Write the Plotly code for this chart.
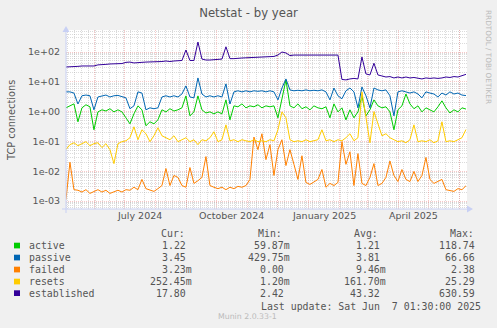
import pandas as pd
import plotly.graph_objects as go

# ---- data: daily-averaged TCP connection counts, one sample every 4 days ----
start = pd.Timestamp("2024-05-03")
dates = pd.date_range(start=start, periods=101, freq="4D")

established = [31.5, 31.5, 33, 33, 34, 34, 35, 34, 37, 37, 38.5, 39.7, 40, 40, 41, 45, 46, 43, 43, 45,
               46, 46, 46, 48, 48, 50, 48, 50, 50, 52, 117, 52, 52, 216, 58, 54, 54, 56, 56, 58,
               150, 60, 60, 63, 63, 64, 65, 65, 68, 68, 68, 70, 71, 79, 100, 93, 76, 79, 79, 79,
               79, 79, 79, 79, 79, 79, 79, 79, 79, 12, 11.6, 12.5, 13, 12.5, 68, 18.4, 17, 42, 17, 15.7,
               14.5, 15, 13.5, 14.5, 13.5, 14.5, 13.5, 14, 13, 12.5, 13.5, 13, 13.5, 13, 13.5, 14.5, 14, 15, 14.5, 15.7,
               17.8]

passive = [4.6, 4.6, 4.2, 1.8, 3.4, 3.6, 3.4, 1.15, 3.1, 3.4, 3.6, 3.1, 3.4, 3.5, 3.1, 2.9, 1.25, 1.56, 4.6, 4.2,
           1.15, 1.34, 1.25, 1.34, 3.1, 3.4, 3.1, 3.4, 3.1, 3.9, 7.3, 3.1, 2.9, 13.5, 3.9, 3.1, 3.4, 3.1, 3.4, 3.1,
           8.5, 1.8, 4.6, 5.0, 4.6, 5.0, 4.6, 5.0, 4.8, 5.0, 4.6, 5.0, 4.6, 2.48, 6.2, 12.5, 5.35, 5.0, 5.2, 5.0,
           5.35, 5.0, 5.2, 5.0, 5.35, 4.6, 2.48, 6.2, 3.4, 2.7, 5.0, 6.2, 4.6, 1.34, 6.7, 3.4, 1.34, 6.2, 5.35, 5.0,
           5.35, 3.4, 0.72, 4.6, 5.0, 4.6, 4.2, 4.6, 3.9, 2.9, 4.6, 4.2, 3.9, 3.1, 4.2, 3.6, 4.6, 3.9, 4.2, 3.6,
           3.45]

active = [1.34, 1.56, 1.82, 0.455, 1.34, 1.7, 1.45, 0.246, 0.98, 1.15, 1.05, 1.25, 0.98, 1.15, 0.98, 0.62, 0.39, 0.84, 1.56, 1.15,
          0.335, 0.455, 0.39, 0.53, 1.15, 0.98, 1.25, 1.05, 1.15, 1.34, 3.37, 0.72, 0.98, 3.37, 1.15, 0.9, 0.98, 0.84, 0.98, 0.84,
          2.48, 0.53, 1.56, 1.45, 1.82, 1.34, 1.56, 1.45, 1.7, 1.34, 1.56, 1.45, 1.56, 0.62, 2.48, 11.6, 1.56, 1.34, 1.82, 1.25,
          1.45, 1.15, 1.56, 1.34, 1.25, 1.45, 0.62, 1.82, 0.98, 1.34, 0.53, 1.15, 0.62, 0.98, 3.37, 0.72, 1.15, 2.48, 1.56, 1.34,
          1.45, 0.98, 0.246, 1.15, 1.56, 3.9, 1.82, 1.25, 1.56, 0.98, 1.34, 1.15, 0.98, 1.45, 2.3, 1.34, 0.9, 1.15, 0.98, 1.34,
          1.22]

resets = [0.053, 0.078, 0.09, 0.072, 0.084, 0.098, 0.072, 0.084, 0.09, 0.062, 0.084, 0.053, 0.018, 0.084, 0.098, 0.105, 0.133, 0.31, 0.114, 0.246,
          0.181, 0.098, 0.155, 0.287, 0.155, 0.133, 0.114, 0.155, 0.098, 0.114, 0.133, 0.098, 0.114, 0.078, 0.114, 0.105, 0.133, 0.211, 0.098, 0.114,
          0.36, 0.105, 0.114, 0.098, 0.114, 0.105, 0.098, 0.114, 0.098, 0.105, 0.098, 0.114, 0.105, 0.246, 0.98, 0.62, 0.114, 0.098, 0.105, 0.098,
          0.114, 0.098, 0.105, 0.114, 0.246, 0.105, 0.114, 0.098, 0.114, 0.105, 0.133, 0.181, 0.105, 0.133, 4.6, 0.53, 0.09, 1.0, 0.36, 0.155,
          0.181, 0.133, 0.114, 0.098, 0.105, 0.09, 0.114, 0.36, 0.098, 0.105, 0.098, 0.114, 0.09, 0.105, 0.455, 0.098, 0.105, 0.098, 0.114, 0.133,
          0.25]

failed = [0.0011, 0.02, 0.0024, 0.0023, 0.002, 0.0024, 0.0018, 0.0021, 0.0024, 0.002, 0.0023, 0.0018, 0.0021, 0.0023, 0.002, 0.0024, 0.0023, 0.0029, 0.0024, 0.0053,
          0.0026, 0.0023, 0.0021, 0.0026, 0.0033, 0.0123, 0.0033, 0.0072, 0.0062, 0.0033, 0.0029, 0.0133, 0.0039, 0.0048, 0.0062, 0.031, 0.0033, 0.0029, 0.0026, 0.0029,
          0.0024, 0.0029, 0.0026, 0.0031, 0.0029, 0.0033, 0.0053, 0.14, 0.053, 0.181, 0.0245, 0.078, 0.0072, 0.053, 0.114, 0.0155, 0.053, 0.017, 0.0053, 0.033,
          0.0042, 0.0036, 0.0045, 0.0053, 0.0114, 0.0029, 0.0039, 0.0033, 0.0042, 0.098, 0.017, 0.045, 0.0033, 0.039, 0.0039, 0.0033, 0.0062, 0.018, 0.0033, 0.0039,
          0.0062, 0.022, 0.0072, 0.0045, 0.0114, 0.0053, 0.0045, 0.0098, 0.0045, 0.0072, 0.029, 0.0053, 0.0039, 0.0045, 0.0053, 0.0024, 0.0023, 0.0021, 0.0026, 0.0024,
          0.00323]

series_names = ["active", "passive", "failed", "resets", "established"]
series_colors = ["#00CC00", "#0066B3", "#FF8000", "#FFCC00", "#330099"]
series_values = [active, passive, failed, resets, established]

cur_vals = ["1.22", "3.45", "3.23m", "252.45m", "17.80"]
min_vals = ["59.87m", "429.75m", "0.00", "1.20m", "2.42"]
avg_vals = ["1.21", "3.81", "9.46m", "161.70m", "43.32"]
max_vals = ["118.74", "66.66", "2.38", "25.29", "630.59"]

y_tick_vals = [1e-3, 1e-2, 1e-1, 1, 10, 100]
y_tick_text = ["1e-03", "1e-02", "1e-01", "1e+00", "1e+01", "1e+02"]
month_labels = ["July 2024", "October 2024", "January 2025", "April 2025"]
month_label_dates = ["2024-07-16", "2024-10-16", "2025-01-16", "2025-04-16"]

# ---- geometry ----
W, H = 497, 328
L, R, T, B = 66, 467, 30, 209

def px(x):
    return (x - L) / (R - L)

def py(y):
    return (B - y) / (B - T)

TEXT = "#555555"
SANS = "DejaVu Sans"
MONO = "DejaVu Sans Mono"
AXIS_COL = "#C8D0F4"
MGRID = "rgba(235,110,110,0.38)"
GRID = "rgba(160,160,160,0.38)"

fig = go.Figure()
for name, color, vals in zip(series_names, series_colors, series_values):
    fig.add_trace(go.Scatter(x=dates, y=vals, mode="lines", name=name,
                             line=dict(color=color, width=1), hoverinfo="skip"))

x_start = pd.Timestamp("2024-05-03 01:30")
x_end = x_start + pd.Timedelta(days=R - L)
month_starts = pd.date_range("2024-06-01", "2025-06-01", freq="MS")
week_lines = pd.date_range("2024-05-05", "2025-06-08", freq="7D")

minor_y = [m * 10.0 ** d for d in range(-4, 3) for m in range(2, 10)]

fig.update_layout(
    width=W, height=H,
    margin=dict(l=L, r=W - R, t=T, b=H - B),
    paper_bgcolor="#F0F0F0", plot_bgcolor="#FFFFFF",
    showlegend=False,
    title=dict(text="Netstat - by year", x=0.5, xref="container", xanchor="center",
               y=1 - 13 / H, yref="container", yanchor="middle",
               font=dict(family=SANS, size=11.7, color=TEXT)),
    xaxis=dict(type="date", range=[x_start, x_end], tickmode="array",
               tickvals=list(month_starts), showticklabels=False, ticks="",
               showgrid=True, gridcolor=MGRID, griddash="1px,1px", gridwidth=1,
               zeroline=False, showline=False,
               minor=dict(tickmode="array", tickvals=list(week_lines), showgrid=True,
                          gridcolor=GRID, griddash="1px,1px", gridwidth=1, ticks="")),
    yaxis=dict(type="log", range=[-3.268, 2.739], tickmode="array",
               tickvals=y_tick_vals, ticktext=y_tick_text, ticks="",
               tickfont=dict(family=SANS, size=9.5, color=TEXT), ticklabelstandoff=5,
               showgrid=True, gridcolor=MGRID, griddash="1px,1px", gridwidth=1,
               zeroline=False, showline=False,
               minor=dict(tickmode="array", tickvals=minor_y, showgrid=True,
                          gridcolor=GRID, griddash="1px,1px", gridwidth=1, ticks="")),
)

shapes = []
# axis lines with arrow heads
shapes.append(dict(type="line", xref="paper", yref="paper", x0=px(62), x1=px(468), y0=py(B), y1=py(B),
                   line=dict(color=AXIS_COL, width=1)))
shapes.append(dict(type="line", xref="paper", yref="paper", x0=px(L), x1=px(L), y0=py(213), y1=py(28),
                   line=dict(color=AXIS_COL, width=1)))
shapes.append(dict(type="path", xref="paper", yref="paper",
                   path=f"M {px(467)},{py(B - 3.5)} L {px(473)},{py(B)} L {px(467)},{py(B + 3.5)} Z",
                   fillcolor=AXIS_COL, line=dict(width=0)))
shapes.append(dict(type="path", xref="paper", yref="paper",
                   path=f"M {px(L - 3.5)},{py(32)} L {px(L)},{py(26)} L {px(L + 3.5)},{py(32)} Z",
                   fillcolor=AXIS_COL, line=dict(width=0)))

annotations = []
for lab, d in zip(month_labels, month_label_dates):
    annotations.append(dict(x=d, xref="x", y=py(216), yref="paper", text=lab, showarrow=False,
                            xanchor="center", yanchor="middle",
                            font=dict(family=SANS, size=9.5, color=TEXT)))

annotations.append(dict(x=px(11), xref="paper", y=py(121), yref="paper", text="TCP connections",
                        textangle=-90, showarrow=False, xanchor="center", yanchor="middle",
                        font=dict(family=SANS, size=9.8, color=TEXT)))

annotations.append(dict(x=px(489), xref="paper", y=py(57), yref="paper", text="RRDTOOL / TOBI OETIKER",
                        textangle=90, showarrow=False, xanchor="center", yanchor="middle",
                        font=dict(family=SANS, size=7.3, color="#BBBBBB")))

# ---- legend table ----
CHAR = 5.96
row_y = [245.7, 257.7, 269.7, 281.7, 293.3]
header_x = {"Cur:": 159, "Min:": 256, "Avg:": 352, "Max:": 448}
col_right = [194.3, 291.7, 387.7, 483.3]
for txt, hx in header_x.items():
    annotations.append(dict(x=px(hx), xref="paper", y=py(234), yref="paper", text=txt, showarrow=False,
                            xanchor="left", yanchor="middle", font=dict(family=MONO, size=9.9, color=TEXT)))

for i, (name, color) in enumerate(zip(series_names, series_colors)):
    yc = row_y[i]
    shapes.append(dict(type="rect", xref="paper", yref="paper", x0=px(14), x1=px(20),
                       y0=py(yc - 3), y1=py(yc + 2.7), fillcolor=color, line=dict(width=0)))
    annotations.append(dict(x=px(26.5), xref="paper", y=py(yc), yref="paper", text=name, showarrow=False,
                            xanchor="left", yanchor="middle", font=dict(family=MONO, size=9.9, color=TEXT)))
    for col, right in zip((cur_vals, min_vals, avg_vals, max_vals), col_right):
        v = col[i]
        xr = right if v.endswith("m") else right - CHAR
        annotations.append(dict(x=px(xr), xref="paper", y=py(yc), yref="paper", text=v, showarrow=False,
                                xanchor="right", yanchor="middle",
                                font=dict(family=MONO, size=9.9, color=TEXT)))

annotations.append(dict(x=px(483), xref="paper", y=py(306), yref="paper",
                        text="Last update: Sat Jun \u00a07 01:30:00 2025", showarrow=False,
                        xanchor="right", yanchor="middle", font=dict(family=MONO, size=9.9, color=TEXT)))
annotations.append(dict(x=px(247.5), xref="paper", y=py(316.7), yref="paper", text="Munin 2.0.33-1",
                        showarrow=False, xanchor="center", yanchor="middle",
                        font=dict(family=SANS, size=7.8, color="#BBBBBB")))

fig.update_layout(shapes=shapes, annotations=annotations)
fig.write_html("out.html")
